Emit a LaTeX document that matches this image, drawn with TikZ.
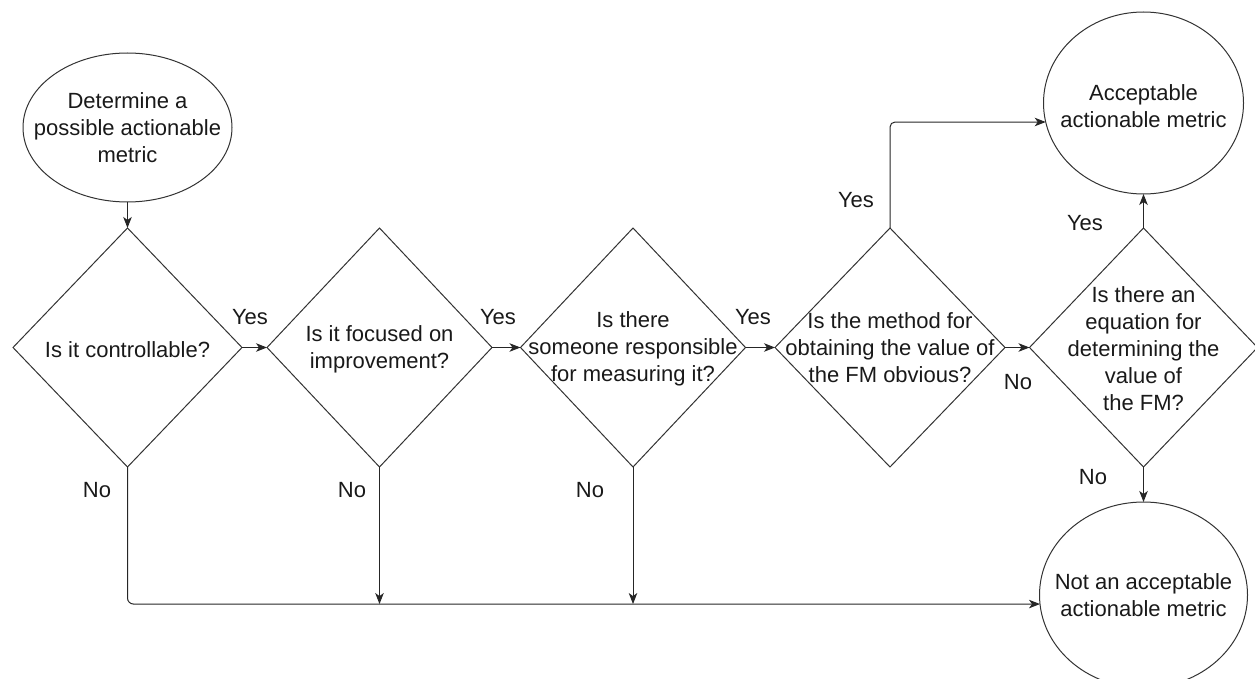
\documentclass[tikz,border=0pt]{standalone}
\usepackage{fontspec}
\setmainfont{Liberation Sans}
\usetikzlibrary{shapes.geometric,arrows.meta}
\begin{document}
\begin{tikzpicture}[x=1pt,y=-1pt,
  every node/.style={inner sep=0pt, outer sep=0pt},
  shapeline/.style={draw=black!80, line width=1pt},
  decision/.style={shapeline, diamond, minimum width=#1, minimum height=239pt},
  terminal/.style 2 args={shapeline, ellipse, minimum width=#1, minimum height=#2},
  txt/.style={align=center, font=\fontsize{22}{27}\selectfont, text=black!90},
  conn/.style={draw=black!85, line width=1pt, -{Stealth[length=11pt,width=8.5pt,inset=3pt]}}
]
% page frame
\useasboundingbox (0,0) rectangle (1255,679);

% terminals
\node[terminal={209pt}{149pt}] (start) at (127.5,127.5) {};
\node[txt] (startt) at (start.center) {Determine a\\possible actionable\\metric};
\node[terminal={200pt}{182pt}] (acc) at (1143.5,103) {};
\node[txt] (acct) at (1143.5,106) {Acceptable\\actionable metric};
\node[terminal={208pt}{186pt}] (nacc) at (1143.5,595) {};
\node[txt] (nacct) at (1143.5,595) {Not an acceptable\\actionable metric};

% decisions
\node[decision=229pt] (d1) at (127.5,347.5) {};
\node[txt] (d1t) at (127.5,350) {Is it controllable?};
\node[decision=225pt] (d2) at (379.5,347.5) {};
\node[txt] (d2t) at (379.5,349) {Is it focused on\\improvement?};
\node[decision=225pt] (d3) at (633,347.5) {};
\node[txt] (d3t) at (633,349) {Is there\\someone responsible\\for measuring it?};
\node[decision=230pt] (d4) at (890,347.5) {};
\node[txt] (d4t) at (890,347.5) {Is the method for\\obtaining the value of\\the FM obvious?};
\node[decision=228pt] (d5) at (1143.5,347.5) {};
\node[txt] (d5t) at (1143.5,349) {Is there an\\equation for\\determining the\\value of\\the FM?};

% junctions on the bottom line
\coordinate (nin) at (nacc.185.5);
\coordinate (j2) at (d2.south |- nin);
\coordinate (j3) at (d3.south |- nin);

% connectors
\draw[conn] (start.south) -- (d1.north);
\draw[conn] (d1.east) -- (d2.west);
\draw[conn] (d2.east) -- (d3.west);
\draw[conn] (d3.east) -- (d4.west);
\draw[conn] (d4.east) -- (d5.west);
\draw[conn, rounded corners=5pt] (d4.north) |- (acc.191);
\draw[conn] (d5.north) -- (acc.south);
\draw[conn] (d5.south) -- (nacc.north);
\draw[conn, rounded corners=6pt] (d1.south) |- (nin);
\draw[conn] (d2.south) -- (j2);
\draw[conn] (d3.south) -- (j3);

% branch labels
\node[txt] (y1) at (250,317) {Yes};
\node[txt] (y2) at (498,317) {Yes};
\node[txt] (y3) at (753,317) {Yes};
\node[txt] (y4) at (856,200) {Yes};
\node[txt] (y5) at (1085,223) {Yes};
\node[txt] (n4) at (1018,382) {No};
\node[txt] (n5) at (1093,477) {No};
\node[txt] (n1) at (97,490) {No};
\node[txt] (n2) at (352,490) {No};
\node[txt] (n3) at (590,490) {No};
\end{tikzpicture}
\end{document}
